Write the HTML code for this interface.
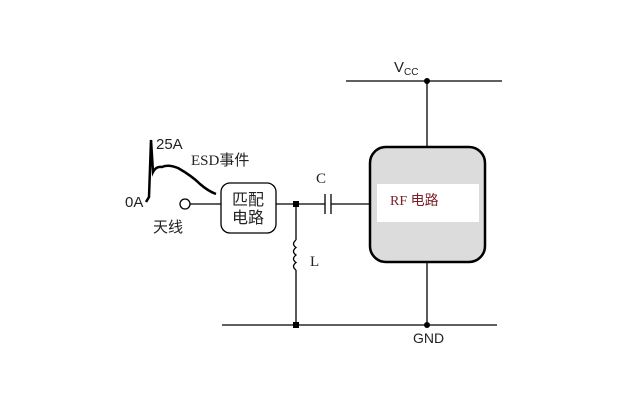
<!DOCTYPE html>
<html><head><meta charset="utf-8"><style>
html,body{margin:0;padding:0;background:#fff;width:640px;height:400px;overflow:hidden}
</style></head><body>
<svg width="640" height="400" viewBox="0 0 640 400" xmlns="http://www.w3.org/2000/svg" font-family="Liberation Sans, Noto Sans CJK SC, sans-serif">
<g stroke="#000" stroke-width="1.3" fill="none">
<line x1="346" y1="81" x2="502" y2="81"/>
<line x1="427" y1="81" x2="427" y2="148"/>
<line x1="427" y1="262" x2="427" y2="325"/>
<line x1="222" y1="325" x2="497" y2="325"/>
<line x1="296" y1="204" x2="296" y2="240"/>
<line x1="296" y1="270" x2="296" y2="325"/>
<path d="M296 240 q-5 4 0 7.5 q-5 4 0 7.5 q-5 4 0 7.5 q-5 4 0 7.5" />
<line x1="276" y1="204" x2="325" y2="204"/>
<line x1="331" y1="204" x2="370" y2="204"/>
<line x1="325" y1="194" x2="325" y2="214"/>
<line x1="331" y1="194" x2="331" y2="214"/>
<line x1="190" y1="204" x2="221" y2="204"/>
<circle cx="185" cy="204" r="5" fill="#fff"/>
<rect x="221" y="183" width="55" height="50" rx="9" fill="#fff"/>
</g>
<rect x="370" y="147" width="115" height="115" rx="16" fill="#dcdcdc" stroke="#000" stroke-width="2.5"/>
<rect x="377" y="184" width="102" height="38" fill="#fff"/>
<path d="M146 202 L149 197 L151 140 L153 172 Q156 166 162 167 Q168 164 178 168 Q192 176 200 184 Q208 191 216 194" fill="none" stroke="#000" stroke-width="2.5"/>
<g fill="#000" stroke="none">
<circle cx="427" cy="81" r="3"/><circle cx="427" cy="325" r="3"/>
<rect x="293" y="201" width="6" height="6"/><rect x="293" y="322" width="6" height="6"/>
</g>
<g font-size="15" fill="#222">
<text x="394" y="72">V<tspan font-size="10" dy="3">CC</tspan></text>
<text x="413" y="343" font-size="14">GND</text>
<text x="316" y="183" font-family="Liberation Serif, serif">C</text>
<text x="310" y="266" font-family="Liberation Serif, serif">L</text>
<text x="156" y="149">25A</text>
<text x="191" y="165" font-family="Liberation Serif, Noto Sans CJK SC, serif">ESD事件</text>
<text x="125" y="207">0A</text>
<text x="153" y="232">天线</text>
<text x="232" y="205" font-size="16">匹配</text>
<text x="232" y="223" font-size="16">电路</text>
<text x="390" y="205" font-size="14" fill="#7a1f2a" font-family="Liberation Serif, Noto Sans CJK SC, serif">RF 电路</text>
</g>
</svg>
</body></html>
